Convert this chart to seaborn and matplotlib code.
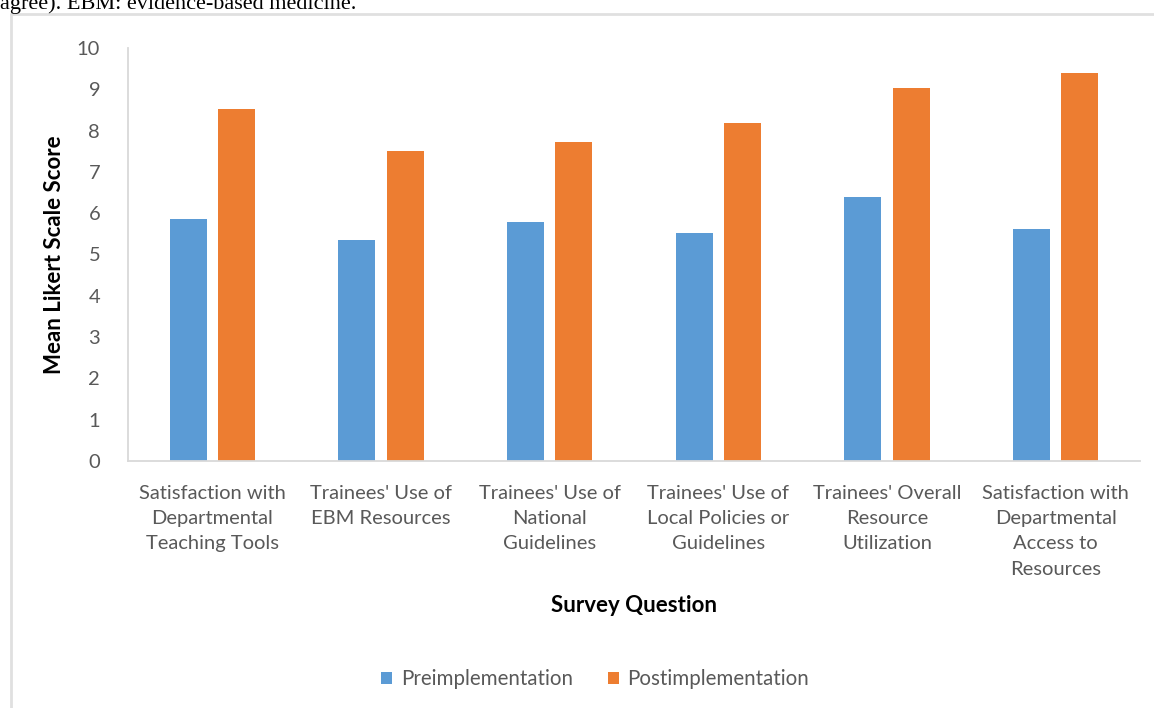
import matplotlib
matplotlib.use("Agg")
import matplotlib.pyplot as plt
from matplotlib.lines import Line2D
import seaborn as sns
import pandas as pd

# Survey questions (x categories), wrapped as they appear under the axis
questions = [
    "Satisfaction with\nDepartmental\nTeaching Tools",
    "Trainees' Use of\nEBM Resources",
    "Trainees' Use of\nNational\nGuidelines",
    "Trainees' Use of\nLocal Policies or\nGuidelines",
    "Trainees' Overall\nResource\nUtilization",
    "Satisfaction with\nDepartmental\nAccess to\nResources",
]
pre_scores = [5.85, 5.34, 5.79, 5.51, 6.40, 5.62]
post_scores = [8.52, 7.50, 7.73, 8.18, 9.02, 9.39]
phases = ["Preimplementation", "Postimplementation"]
y_ticks = list(range(0, 11))

df = pd.DataFrame({
    "question": questions * 2,
    "score": pre_scores + post_scores,
    "phase": [phases[0]] * len(questions) + [phases[1]] * len(questions),
})

sns.set_theme(style="white")
plt.rcParams["font.family"] = ["Lato", "DejaVu Sans"]

BLUE = "#5B9BD5"
ORANGE = "#ED7D31"
GREY_TEXT = "#595959"
AXIS_GREY = "#D9D9D9"

fig = plt.figure(figsize=(11.54, 7.08), dpi=100)
ax = fig.add_axes([128 / 1154, 1 - 461 / 708, (1140 - 128) / 1154, (461 - 48) / 708])

sns.barplot(
    data=df, x="question", y="score", hue="phase",
    palette=[BLUE, ORANGE], width=0.57, gap=0.23,
    saturation=1, ax=ax, legend=True, linewidth=0,
)

ax.set_ylim(0, 10)
ax.set_xlim(-0.5, len(questions) - 0.5)
ax.set_yticks(y_ticks)
ax.set_yticklabels([str(t) for t in y_ticks])
ax.tick_params(axis="y", length=0, pad=20, labelsize=14.5, labelcolor=GREY_TEXT)
ax.tick_params(axis="x", length=0, pad=17, labelsize=14.5, labelcolor=GREY_TEXT)
for lbl in ax.get_xticklabels():
    lbl.set_linespacing(1.6)

for side in ("top", "right"):
    ax.spines[side].set_visible(False)
for side in ("left", "bottom"):
    ax.spines[side].set_color(AXIS_GREY)
    ax.spines[side].set_linewidth(1.3)

ax.set_ylabel("Mean Likert Scale Score", fontsize=16, fontweight="bold",
              color="black")
ax.set_xlabel("")
ax.yaxis.set_label_coords((65 - 128) / (1140 - 128), 0.5)
fig.text(634 / 1154, 1 - 606 / 708, "Survey Question", ha="center", va="center",
         fontsize=16, fontweight="bold", color="black")

handles, labels = ax.get_legend_handles_labels()
ax.get_legend().remove()
fig.legend(handles, labels, loc="center", bbox_to_anchor=(595 / 1154, 1 - 679 / 708),
           ncol=2, frameon=False, fontsize=14.8, labelcolor=GREY_TEXT,
           handlelength=0.55, handleheight=0.55, handletextpad=0.4, columnspacing=1.7)

# Outer frame around the chart area, continuing past the right and bottom edges
fig.add_artist(Line2D([11 / 1154, 11 / 1154], [1 - 14 / 708, -0.05],
                      transform=fig.transFigure, color="#E0E0E0", linewidth=2))
fig.add_artist(Line2D([11 / 1154, 1.05], [1 - 14 / 708, 1 - 14 / 708],
                      transform=fig.transFigure, color="#E0E0E0", linewidth=2))

# Tail of the caption text above the chart
fig.text(0.0, 1 - 8.5 / 708, "agree). EBM: evidence-based medicine.", ha="left",
         va="baseline", fontsize=16, color="black", family="Liberation Serif")

fig.savefig("out.png", dpi=100)
